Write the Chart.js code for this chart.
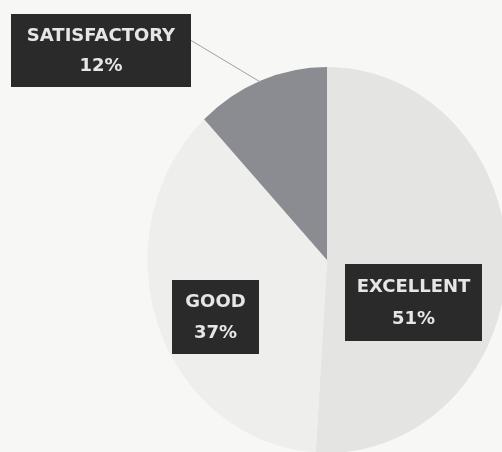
<!DOCTYPE html>
<html>
<head>
<meta charset="utf-8">
<script src="https://cdn.jsdelivr.net/npm/chart.js@4"></script>
<style>
  html, body { margin: 0; padding: 0; background: #f7f7f6; overflow: hidden; }
  #wrap { position: absolute; left: 0; top: 0; width: 700px; height: 640px; }
</style>
</head>
<body>
<div id="wrap"><canvas id="pieChart"></canvas></div>
<script>
// Chart data
const categories = ['EXCELLENT', 'GOOD', 'SATISFACTORY'];
const shares = [51, 37, 12];
const sliceColors = ['#e4e4e3', '#eeeeed', '#8a8c91'];

// The photo is taken at a slight angle, so the pie looks a bit narrower than tall
const squeezeX = 0.93;

// Where each dark label box sits (canvas px); the outside one gets a leader line
const labelBoxes = [
    { x: 345, y: 264, w: 137, h: 77 },
    { x: 172, y: 280, w: 87, h: 74 },
    { x: 11, y: 14, w: 180, h: 73, leader: true }
];

// Squeeze the pie, then draw the dark boxed labels on top
const boxLabels = {
    id: 'boxLabels',
    beforeDatasetsDraw(chart) {
        const arc = chart.getDatasetMeta(0).data[0];
        const c = chart.ctx;
        c.save();
        c.translate(arc.x, arc.y);
        c.scale(squeezeX, 1);
        c.translate(-arc.x, -arc.y);
    },
    afterDatasetsDraw(chart) {
        const c = chart.ctx;
        c.restore();
        const arcs = chart.getDatasetMeta(0).data;
        c.save();
        arcs.forEach((arc, i) => {
            const b = labelBoxes[i];
            if (b.leader) {
                const mid = (arc.startAngle + arc.endAngle) / 2;
                c.strokeStyle = '#a0a0a0';
                c.lineWidth = 1;
                c.beginPath();
                c.moveTo(b.x + b.w - 4, b.y + 24);
                c.lineTo(arc.x + Math.cos(mid) * arc.outerRadius * squeezeX,
                         arc.y + Math.sin(mid) * arc.outerRadius * 0.99);
                c.stroke();
            }
            c.fillStyle = '#2a2a2b';
            c.fillRect(b.x, b.y, b.w, b.h);
            c.fillStyle = '#e6e6e6';
            c.font = 'bold 18px "DejaVu Sans"';
            c.textAlign = 'center';
            c.textBaseline = 'middle';
            c.fillText(categories[i], b.x + b.w / 2, b.y + b.h * 0.3);
            c.fillText(shares[i] + '%', b.x + b.w / 2, b.y + b.h * 0.72);
        });
        c.restore();
    }
};

const ctx = document.getElementById('pieChart').getContext('2d');
let chart = new Chart(ctx, {
    type: 'pie',
    data: {
        labels: categories,
        datasets: [{
            data: shares,
            backgroundColor: sliceColors,
            borderWidth: 0
        }]
    },
    options: {
        responsive: true,
        maintainAspectRatio: false,
        animation: false,
        layout: { padding: { left: 134, top: 67, right: 180, bottom: 187 } },
        plugins: {
            legend: { display: false },
            tooltip: { enabled: false }
        }
    },
    plugins: [boxLabels]
});
</script>
</body>
</html>
